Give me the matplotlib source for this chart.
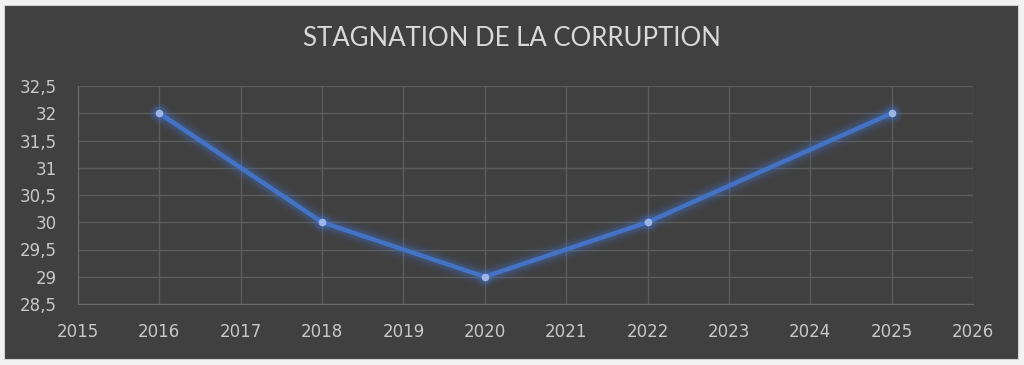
import matplotlib
matplotlib.use("Agg")
import matplotlib.pyplot as plt
from matplotlib.patches import Rectangle

years = [2016, 2018, 2020, 2022, 2025]
values = [32, 30, 29, 30, 32]
x_ticks = list(range(2015, 2027))
y_ticks = [28.5, 29, 29.5, 30, 30.5, 31, 31.5, 32, 32.5]
y_labels = ["28,5", "29", "29,5", "30", "30,5", "31", "31,5", "32", "32,5"]
title = "STAGNATION DE LA CORRUPTION"

W, H = 1024, 365
fig = plt.figure(figsize=(W / 100, H / 100), dpi=100, facecolor="#f2f2f2")
bg = "#404040"
rect = Rectangle((4 / W, 1 - 359 / H), (1018 - 4) / W, (359 - 5) / H,
                 transform=fig.transFigure, facecolor=bg,
                 edgecolor="#d0d0d0", linewidth=0.8, zorder=-10)
fig.add_artist(rect)

ax = fig.add_axes([78 / W, 1 - 304 / H, (973 - 78) / W, (304 - 86) / H])
ax.set_zorder(1)
ax.patch.set_alpha(0)

ax.set_xlim(2015, 2026)
ax.set_ylim(28.5, 32.5)
ax.set_xticks(x_ticks)
ax.set_xticklabels([str(x) for x in x_ticks])
ax.set_yticks(y_ticks)
ax.set_yticklabels(y_labels)
ax.grid(True, color="#5c5c5c", linewidth=1.0)
ax.set_axisbelow(True)
for s in ax.spines.values():
    s.set_visible(False)
ax.spines["left"].set_visible(True)
ax.spines["bottom"].set_visible(True)
ax.spines["left"].set_color("#6a6a6a")
ax.spines["bottom"].set_color("#6a6a6a")
ax.tick_params(length=0, colors="#c8c8c8", labelsize=12)
ax.tick_params(axis="y", pad=15)
ax.tick_params(axis="x", pad=14)

line_color = "#4472C4"
for lw, a in [(16, 0.06), (12, 0.08), (9, 0.12), (6.5, 0.18)]:
    ax.plot(years, values, color=line_color, linewidth=lw, alpha=a,
            solid_capstyle="round", solid_joinstyle="round")
ax.plot(years, values, color=line_color, linewidth=3.2,
        solid_joinstyle="round")
for ms, a in [(14, 0.12), (10, 0.2)]:
    ax.plot(years, values, linestyle="none", marker="o", markersize=ms,
            color=line_color, alpha=a, markeredgewidth=0)
ax.plot(years, values, linestyle="none", marker="o", markersize=5.5,
        markerfacecolor="#9db5e6", markeredgewidth=0)

fig.text(0.5, 1 - 38 / H, title, ha="center", va="center", color="#d9d9d9",
         fontsize=18.5, family=["Lato", "DejaVu Sans"])

fig.savefig("out.png", dpi=100, facecolor=fig.get_facecolor())
